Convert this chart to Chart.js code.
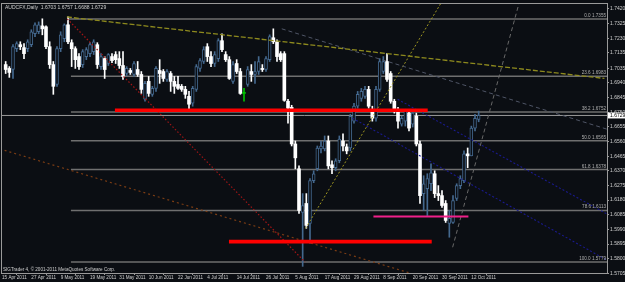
<!DOCTYPE html>
<html>
<head>
<meta charset="utf-8">
<script src="https://cdn.jsdelivr.net/npm/chart.js@4.4.0/dist/chart.umd.min.js"></script>
<style>
  html, body { margin: 0; padding: 0; background: #0b0e13; }
  #wrap { width: 625px; height: 282px; }
  canvas { display: block; }
</style>
</head>
<body>
<div id="wrap"><canvas id="chart"></canvas></div>
<script>
// Daily bars, index 0 = 15 Apr 2011, index 130 = 14 Oct 2011
const dateLabels = ['15 Apr 2011', '27 Apr 2011', '9 May 2011', '19 May 2011', '31 May 2011', '10 Jun 2011',
  '22 Jun 2011', '4 Jul 2011', '14 Jul 2011', '26 Jul 2011', '5 Aug 2011', '17 Aug 2011', '29 Aug 2011',
  '8 Sep 2011', '20 Sep 2011', '30 Sep 2011', '12 Oct 2011'];

const opens = [null,
  1.7059, 1.7034, 1.7027, 1.7162, 1.7188, 1.7169, 1.7162, 1.7188, 1.7259, 1.7272,
  1.7310, 1.7304, 1.7175, 1.7059, 1.6930, 1.7162, 1.7227, 1.7317, 1.7201, 1.7162,
  1.7111, 1.7059, 1.7111, 1.7130, 1.7143, 1.7188, 1.7046, 1.7098, 1.7066, 1.7111,
  1.7124, 1.7098, 1.7053, 1.7001, 1.7021, 1.6995, 1.7027, 1.6995, 1.6834, 1.6950,
  1.6866, 1.6905, 1.7021, 1.7014, 1.6963, 1.7001, 1.6950, 1.6930, 1.6918, 1.6898,
  1.6853, 1.6808, 1.6898, 1.7034, 1.7079, 1.7175, 1.7111, 1.7066, 1.7098, 1.7214,
  1.7124, 1.7091, 1.6950, 1.7066, 1.7014, 1.6872, 1.6930, 1.7014, 1.6995, 1.7014,
  1.7034, 1.7027, 1.7091, 1.7233, 1.7207, 1.7130, 1.7130, 1.6821, 1.6782, 1.6544,
  1.6383, 1.6100, 1.6158, 1.6029, 1.6306, 1.6383, 1.6512, 1.6512, 1.6563, 1.6409,
  1.6390, 1.6435, 1.6563, 1.6525, 1.6518, 1.6692, 1.6789, 1.6840, 1.6853, 1.6898,
  1.6757, 1.6711, 1.6898, 1.7014, 1.7079, 1.7001, 1.6821, 1.6769, 1.6673, 1.6692,
  1.6744, 1.6673, 1.6724, 1.6544, 1.6222, 1.6254, 1.6286, 1.6351, 1.6222, 1.6209,
  1.6158, 1.6029, 1.6035, 1.6190, 1.6274, 1.6306, 1.6480, 1.6467, 1.6647, 1.6703];

const highs = [null,
  1.7079, 1.7046, 1.7188, 1.7207, 1.7207, 1.7195, 1.7220, 1.7285, 1.7330, 1.7336,
  1.7356, 1.7310, 1.7207, 1.7079, 1.7175, 1.7272, 1.7323, 1.7368, 1.7220, 1.7175,
  1.7130, 1.7156, 1.7169, 1.7201, 1.7220, 1.7201, 1.7130, 1.7111, 1.7130, 1.7130,
  1.7143, 1.7143, 1.7143, 1.7046, 1.7034, 1.7079, 1.7079, 1.7014, 1.6950, 1.6982,
  1.6918, 1.7046, 1.7091, 1.7027, 1.7027, 1.7014, 1.6982, 1.6982, 1.6930, 1.6918,
  1.6885, 1.6918, 1.7059, 1.7098, 1.7175, 1.7195, 1.7143, 1.7143, 1.7227, 1.7259,
  1.7143, 1.7111, 1.7079, 1.7091, 1.7034, 1.6905, 1.7046, 1.7059, 1.7079, 1.7111,
  1.7059, 1.7111, 1.7252, 1.7291, 1.7220, 1.7143, 1.7143, 1.6834, 1.6795, 1.6563,
  1.6402, 1.6222, 1.6222, 1.6319, 1.6370, 1.6531, 1.6563, 1.6596, 1.6596, 1.6435,
  1.6448, 1.6596, 1.6609, 1.6544, 1.6737, 1.6808, 1.6885, 1.6905, 1.6918, 1.6918,
  1.6789, 1.6918, 1.7098, 1.7111, 1.7130, 1.7014, 1.6834, 1.6782, 1.6724, 1.6769,
  1.6769, 1.6757, 1.6744, 1.6563, 1.6338, 1.6351, 1.6415, 1.6370, 1.6274, 1.6241,
  1.6177, 1.6113, 1.6209, 1.6286, 1.6338, 1.6499, 1.6518, 1.6660, 1.6737, 1.6757];

const lows = [null,
  1.7001, 1.6976, 1.6969, 1.7143, 1.7156, 1.7098, 1.7143, 1.7175, 1.7240, 1.7259,
  1.7252, 1.7162, 1.7034, 1.6866, 1.6918, 1.7143, 1.7207, 1.7195, 1.7046, 1.7034,
  1.7027, 1.7040, 1.7091, 1.7111, 1.7124, 1.7034, 1.7027, 1.6969, 1.7053, 1.7072,
  1.7066, 1.7034, 1.6963, 1.6988, 1.6995, 1.6982, 1.6982, 1.6872, 1.6821, 1.6853,
  1.6853, 1.6885, 1.6937, 1.6950, 1.6950, 1.6885, 1.6872, 1.6898, 1.6885, 1.6840,
  1.6769, 1.6789, 1.6885, 1.7014, 1.7066, 1.7079, 1.7046, 1.7046, 1.7079, 1.7143,
  1.7079, 1.6963, 1.6937, 1.7001, 1.6866, 1.6821, 1.6918, 1.6950, 1.6937, 1.6995,
  1.7014, 1.7014, 1.7079, 1.7195, 1.7079, 1.7079, 1.6821, 1.6679, 1.6531, 1.6383,
  1.6093, 1.5750, 1.5997, 1.5900, 1.6293, 1.6370, 1.6486, 1.6499, 1.6383, 1.6351,
  1.6370, 1.6422, 1.6499, 1.6480, 1.6499, 1.6679, 1.6776, 1.6821, 1.6840, 1.6776,
  1.6692, 1.6692, 1.6885, 1.7001, 1.6950, 1.6808, 1.6744, 1.6647, 1.6660, 1.6660,
  1.6628, 1.6654, 1.6531, 1.6158, 1.6113, 1.6080, 1.6241, 1.6196, 1.6177, 1.6132,
  1.6035, 1.5939, 1.6029, 1.6177, 1.6254, 1.6293, 1.6390, 1.6467, 1.6628, 1.6688];

const closes = [null,
  1.7027, 1.7008, 1.7175, 1.7195, 1.7175, 1.7130, 1.7207, 1.7272, 1.7317, 1.7317,
  1.7291, 1.7175, 1.7059, 1.6918, 1.7162, 1.7252, 1.7317, 1.7207, 1.7162, 1.7091,
  1.7046, 1.7143, 1.7156, 1.7188, 1.7207, 1.7059, 1.7111, 1.7027, 1.7124, 1.7085,
  1.7091, 1.7053, 1.6982, 1.7034, 1.7008, 1.7066, 1.6995, 1.6898, 1.6937, 1.6872,
  1.6905, 1.7034, 1.7001, 1.6969, 1.7014, 1.6950, 1.6918, 1.6905, 1.6898, 1.6866,
  1.6802, 1.6905, 1.7046, 1.7085, 1.7156, 1.7111, 1.7066, 1.7124, 1.7214, 1.7156,
  1.7091, 1.6969, 1.7059, 1.7014, 1.6872, 1.6872, 1.7027, 1.6995, 1.7014, 1.7079,
  1.7027, 1.7098, 1.7240, 1.7207, 1.7111, 1.7091, 1.6827, 1.6776, 1.6544, 1.6454,
  1.6113, 1.6145, 1.6016, 1.6306, 1.6351, 1.6518, 1.6531, 1.6563, 1.6402, 1.6390,
  1.6435, 1.6576, 1.6531, 1.6499, 1.6724, 1.6789, 1.6866, 1.6885, 1.6898, 1.6789,
  1.6711, 1.6898, 1.7079, 1.7079, 1.6963, 1.6821, 1.6757, 1.6692, 1.6711, 1.6757,
  1.6647, 1.6744, 1.6544, 1.6209, 1.6286, 1.6319, 1.6357, 1.6222, 1.6209, 1.6145,
  1.6048, 1.6061, 1.6177, 1.6274, 1.6319, 1.6480, 1.6467, 1.6647, 1.6711, 1.6729];

const priceTicks = [1.7420, 1.7325, 1.7230, 1.7135, 1.7035, 1.6940, 1.6845, 1.6750, 1.6655, 1.6560,
  1.6465, 1.6370, 1.6275, 1.6180, 1.6085, 1.5990, 1.5895, 1.5800, 1.5705];

// fibonacci retracement
const fibLevels = ['0.0', '23.6', '38.2', '50.0', '61.8', '78.6', '100.0'];
const fibPrices = [1.7355, 1.6983, 1.6752, 1.6565, 1.6378, 1.6113, 1.5779];
const fibStart = 18.8;

// drawn objects: [barIndex, price] anchors
const fibAnchorLine = [[17.8, 1.7355], [82.6, 1.5779]];
const longDownTrend = [[17.7, 1.7368], [164.3, 1.6969]];
const lowerDownTrend = [[-0.6, 1.6512], [111.2, 1.5707]];
const augDownTrend = [[76.3, 1.7291], [165, 1.6640]];
const augUpTrend = [[82.8, 1.5997], [119.9, 1.7465]];
const octUpTrend = [[122.9, 1.5874], [141.1, 1.7465]];
const channelUpper = [[107.9, 1.6834], [165, 1.6090]];
const channelLower = [[95.6, 1.6711], [165, 1.5790]];
const resistanceZone = [30.8, 116.1, 1.6763];
const supportZone = [61.9, 117.2, 1.5911];
const septemberLow = [101.3, 127.2, 1.6074];

const symbolName = 'AUDCFX,Daily';
const lastBar = 130;
const copyright = 'SIGTrader 4, \u00a9 2001-2011 MetaQuotes Software Corp.';

const BG = '#0b0e13';
const BULL = '#44688e';
const BEAR = '#ffffff';
const DOJI = '#00c000';
const TEXT = '#cfcfcf';
const FONT = { family: 'Liberation Sans, Arial, sans-serif', size: 5 };
const SMALL = { family: 'Liberation Sans, Arial, sans-serif', size: 4.6 };

function kind(i) {
  if (closes[i] > opens[i]) return 'bull';
  if (closes[i] < opens[i]) return 'bear';
  return 'doji';
}

const wickData = [], bodyData = [];
for (let i = 0; i < opens.length; i++) {
  if (opens[i] == null) continue;
  wickData.push({ x: i, y: [lows[i], highs[i]] });
  bodyData.push({ x: i, y: [Math.min(opens[i], closes[i]), Math.max(opens[i], closes[i])] });
}

const colorOf = (ctx) => {
  const k = kind(ctx.raw.x);
  return k === 'bull' ? BULL : k === 'bear' ? BEAR : DOJI;
};

function seg(points, color, width, dash, order) {
  return {
    type: 'line',
    data: points.map(([x, y]) => ({ x, y })),
    borderColor: color, borderWidth: width, borderDash: dash || [],
    borderCapStyle: 'butt', pointRadius: 0, fill: false, tension: 0, order,
  };
}
const hline = ([a, b, p], color, width, order) => seg([[a, p], [b, p]], color, width, [], order);

const datasets = [
  { label: 'wick', data: wickData, backgroundColor: colorOf, barThickness: 1, grouped: false, order: 6 },
  {
    label: 'body', data: bodyData, barThickness: 3, grouped: false, order: 5, minBarLength: 1,
    backgroundColor: (ctx) => (kind(ctx.raw.x) === 'bull' ? BG : colorOf(ctx)),
    borderColor: colorOf,
    borderWidth: (ctx) => (kind(ctx.raw.x) === 'bull' ? 1 : 0),
    borderSkipped: false,
  },
  // fib levels + bid line sit behind the candles
  ...fibPrices.map((p, k) => hline([k === 0 ? fibStart - 1 : fibStart, 165, p], '#6f6f6f', 1.5, 9)),
  hline([0, 165, closes[lastBar]], '#9a9a9a', 1, 9),
  // trend lines
  seg(fibAnchorLine, '#a41616', 1.2, [1.5, 2], 2),
  seg(longDownTrend, '#8e8a1e', 1.3, [5, 2], 2),
  seg(lowerDownTrend, '#7a3c14', 1.2, [2, 3], 2),
  seg(augDownTrend, '#4f5566', 1, [4, 3], 2),
  seg(augUpTrend, '#9c9420', 1, [2, 2], 2),
  seg(octUpTrend, '#686868', 1, [4, 3], 2),
  seg(channelUpper, '#1a1a8c', 1.1, [2, 2], 2),
  seg(channelLower, '#1a1a8c', 1.1, [2, 2], 2),
  // support / resistance marks
  hline(resistanceZone, '#ff0000', 3.6, 1),
  hline(supportZone, '#ff0000', 3.8, 1),
  hline(septemberLow, '#f0208a', 2, 1),
];

const overlay = {
  id: 'overlay',
  beforeDraw(chart) {
    const { ctx, width, height } = chart;
    ctx.save();
    ctx.fillStyle = BG;
    ctx.fillRect(0, 0, width, height);
    ctx.restore();
  },
  afterDraw(chart) {
    const { ctx, chartArea: a, scales } = chart;
    const y = scales.y;
    ctx.save();
    ctx.strokeStyle = '#9a9a9a';
    ctx.lineWidth = 1;
    ctx.strokeRect(Math.round(a.left) - 0.5, Math.round(a.top) - 0.5, Math.round(a.right - a.left) + 1, Math.round(a.bottom - a.top) + 1);

    ctx.font = `${FONT.size}px ${FONT.family}`;
    ctx.fillStyle = TEXT;
    ctx.textBaseline = 'top';
    ctx.textAlign = 'left';
    const q = [opens[lastBar], highs[lastBar], lows[lastBar], closes[lastBar]].map((v) => v.toFixed(4)).join(' ');
    ctx.fillText(symbolName + '  ' + q, a.left + 3, a.top + 1);
    ctx.textBaseline = 'bottom';
    ctx.font = `${SMALL.size}px ${SMALL.family}`;
    ctx.fillText(copyright, a.left + 1, a.bottom - 1);

    // fib level captions
    ctx.textAlign = 'right';
    ctx.fillStyle = '#b0b0b0';
    fibPrices.forEach((p, k) => {
      ctx.fillText(fibLevels[k] + ' ' + p.toFixed(4), a.right - 1, y.getPixelForValue(p) - 1);
    });

    // current price tag on the axis
    const py = y.getPixelForValue(closes[lastBar]);
    ctx.font = `${FONT.size}px ${FONT.family}`;
    ctx.fillStyle = '#ffffff';
    ctx.fillRect(a.right + 1, py - 3, 625 - a.right - 1, 6);
    ctx.fillStyle = '#000000';
    ctx.textAlign = 'left';
    ctx.textBaseline = 'middle';
    ctx.fillText(closes[lastBar].toFixed(4), a.right + 3, py + 0.5);
    ctx.restore();
  },
};

new Chart(document.getElementById('chart'), {
  type: 'bar',
  data: { datasets },
  options: {
    responsive: true,
    maintainAspectRatio: false,
    animation: false,
    events: [],
    layout: { padding: { left: 2, top: 2, right: 0, bottom: 0 } },
    plugins: { legend: { display: false }, tooltip: { enabled: false } },
    scales: {
      x: {
        type: 'linear', min: 0, max: 165, offset: false,
        afterBuildTicks: (s) => { s.ticks = dateLabels.map((_, k) => ({ value: k * 8 })); },
        afterFit: (s) => { s.height = 9; },
        ticks: {
          color: TEXT, font: SMALL, align: 'start', padding: 0, maxRotation: 0, autoSkip: false,
          callback: (v) => dateLabels[v / 8] || '',
        },
        grid: { display: true, drawOnChartArea: false, drawTicks: true, tickLength: 2, color: '#9a9a9a' },
        border: { display: false },
      },
      y: {
        type: 'linear', position: 'right', min: 1.5707, max: 1.7452,
        afterBuildTicks: (s) => { s.ticks = priceTicks.map((v) => ({ value: v })); },
        afterFit: (s) => { s.width = 18; },
        ticks: { color: TEXT, font: FONT, padding: 1, callback: (v) => Number(v).toFixed(4) },
        grid: { display: true, drawOnChartArea: false, drawTicks: true, tickLength: 2, color: '#9a9a9a' },
        border: { display: false },
      },
    },
  },
  plugins: [overlay],
});
</script>
</body>
</html>
